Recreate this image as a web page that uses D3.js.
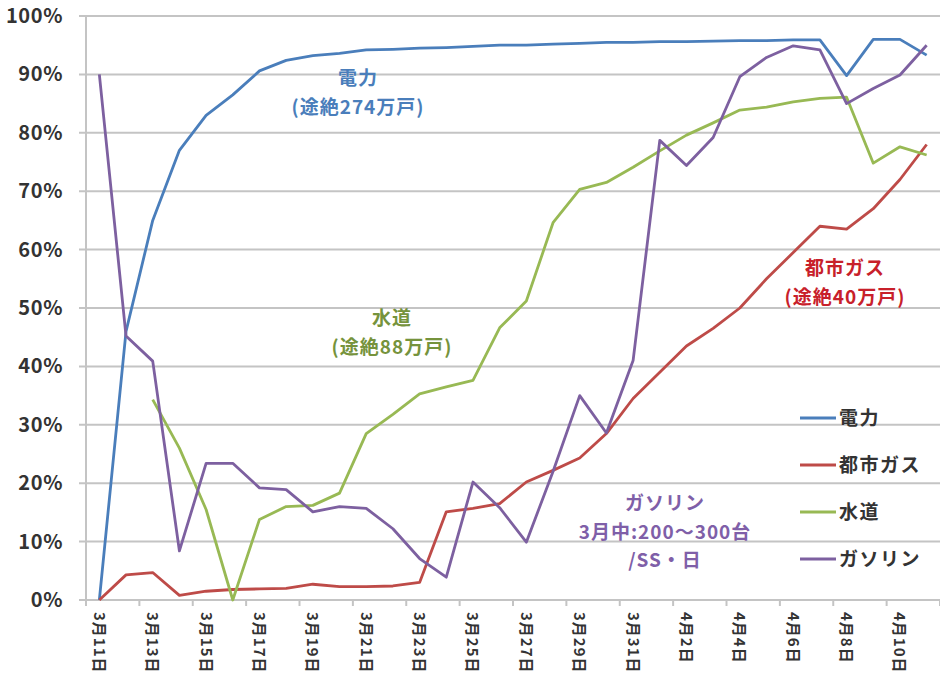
<html lang="ja">
<head>
<meta charset="UTF-8">
<script src="https://d3js.org/d3.v7.min.js"></script>
<style>
  body { margin: 0; background: #fff; }
  text { font-family: "Noto Sans CJK JP", "Open Sans", sans-serif; }
</style>
</head>
<body>
<div id="here"></div>
<script>
    // categories, 3/11 .. 4/11
    const dates = [
        "3月11日", "3月12日", "3月13日", "3月14日", "3月15日", "3月16日", "3月17日", "3月18日",
        "3月19日", "3月20日", "3月21日", "3月22日", "3月23日", "3月24日", "3月25日", "3月26日",
        "3月27日", "3月28日", "3月29日", "3月30日", "3月31日", "4月1日", "4月2日", "4月3日",
        "4月4日", "4月5日", "4月6日", "4月7日", "4月8日", "4月9日", "4月10日", "4月11日"
    ];

    // recovery rates (%)
    const denryoku = [0, 46, 65, 77, 83, 86.5, 90.6, 92.4, 93.2, 93.6, 94.2, 94.3, 94.5, 94.6, 94.8, 95,
        95, 95.2, 95.3, 95.5, 95.5, 95.6, 95.6, 95.7, 95.8, 95.8, 95.9, 95.9, 89.8, 96, 96, 93.3];
    const gas = [0, 4.3, 4.7, 0.8, 1.5, 1.8, 1.9, 2.0, 2.7, 2.3, 2.3, 2.4, 3.0, 15.1, 15.7, 16.5,
        20.2, 22.2, 24.3, 28.5, 34.5, 39, 43.5, 46.5, 50, 55, 59.5, 64, 63.5, 67, 72, 78];
    const suido = [null, null, 34.3, 26, 15.5, 0, 13.8, 16, 16.2, 18.3, 28.5, 31.8, 35.3, 36.5, 37.6, 46.6,
        51.2, 64.6, 70.3, 71.5, 74.1, 76.9, 79.6, 81.7, 83.9, 84.4, 85.3, 85.9, 86.1, 74.8, 77.6, 76.2];
    const gasoline = [90, 45.2, 40.9, 8.4, 23.4, 23.4, 19.2, 18.9, 15.1, 16, 15.7, 12.2, 7.1, 3.9, 20.2, 15.8,
        9.9, 22, 35, 28.6, 41, 78.7, 74.4, 79.2, 89.6, 92.9, 94.9, 94.2, 85, 87.6, 89.9, 95];

    const yTicks = [0, 10, 20, 30, 40, 50, 60, 70, 80, 90, 100];

    const seriesNames = ["電力", "都市ガス", "水道", "ガソリン"];
    const seriesData = [denryoku, gas, suido, gasoline];
    const colors = ["#4A7EBB", "#BE4B48", "#98B954", "#7D60A0"];

    const W = 940, H = 686;
    const mLeft = 86, mRight = 940, mTop = 16, mBottom = 600;

    const svg = d3.select("#here").append("svg")
        .attr("width", W)
        .attr("height", H);

    const x = d3.scaleBand().domain(dates).range([mLeft, mRight]).padding(0);
    const y = d3.scaleLinear().domain([0, 100]).range([mBottom, mTop]);
    const cx = d => x(d) + x.bandwidth() / 2;

    // horizontal grid
    svg.append("g")
        .selectAll("line")
        .data(yTicks)
        .enter().append("line")
        .attr("x1", mLeft - 7).attr("x2", mRight)
        .attr("y1", d => y(d)).attr("y2", d => y(d))
        .attr("stroke", "#c4c4c4")
        .attr("stroke-width", 2);

    // y axis line
    svg.append("line")
        .attr("x1", mLeft).attr("x2", mLeft)
        .attr("y1", mTop).attr("y2", mBottom + 6)
        .attr("stroke", "#c4c4c4").attr("stroke-width", 2);

    // y labels
    svg.append("g")
        .selectAll("text")
        .data(yTicks)
        .enter().append("text")
        .attr("x", 63)
        .attr("y", d => y(d) + 7)
        .attr("text-anchor", "end")
        .attr("font-family", "Open Sans")
        .attr("font-weight", 600)
        .attr("font-size", 20)
        .attr("letter-spacing", 0.6)
        .attr("fill", "#333")
        .text(d => d + "%");

    // x ticks between categories, every 2
    const tickIdx = d3.range(0, dates.length + 1, 2);
    svg.append("g")
        .selectAll("line")
        .data(tickIdx)
        .enter().append("line")
        .attr("x1", i => mLeft + i * x.bandwidth())
        .attr("x2", i => mLeft + i * x.bandwidth())
        .attr("y1", mBottom).attr("y2", mBottom + 6)
        .attr("stroke", "#c4c4c4").attr("stroke-width", 2);

    // x labels, rotated
    svg.append("g")
        .selectAll("text")
        .data(dates.filter((d, i) => i % 2 === 0))
        .enter().append("text")
        .attr("transform", d => "translate(" + (cx(d) - 5.5) + "," + 612 + ") rotate(90)")
        .attr("text-anchor", "start")
        .attr("font-size", 15)
        .attr("font-weight", 600)
        .attr("letter-spacing", 1)
        .attr("fill", "#333")
        .text(d => d);

    // lines
    const line = d3.line()
        .defined(d => d.v !== null)
        .x(d => cx(d.date))
        .y(d => y(d.v));

    seriesData.forEach((s, k) => {
        svg.append("path")
            .datum(s.map((v, i) => ({ date: dates[i], v: v })))
            .attr("fill", "none")
            .attr("stroke", colors[k])
            .attr("stroke-width", 2.8)
            .attr("stroke-linejoin", "round")
            .attr("d", line);
    });

    // annotations
    const notes = [
        { lines: ["電力", "(途絶274万戸)"], x: 358, y: 85, color: "#4A7EBB" },
        { lines: ["水道", "(途絶88万戸)"], x: 392, y: 325, color: "#76933C" },
        { lines: ["都市ガス", "(途絶40万戸)"], x: 845, y: 275, color: "#C8202A" },
        { lines: ["ガソリン", "3月中:200～300台", "/SS・日"], x: 665, y: 510, color: "#7F5FA8" }
    ];
    notes.forEach(n => {
        const t = svg.append("text")
            .attr("text-anchor", "middle")
            .attr("font-size", 19)
            .attr("font-weight", 700)
            .attr("letter-spacing", 1)
            .attr("fill", n.color);
        n.lines.forEach((l, i) => {
            t.append("tspan").attr("x", n.x).attr("y", n.y + i * 28.5).text(l);
        });
    });

    // legend
    const lg = svg.append("g");
    seriesNames.forEach((name, k) => {
        const ly = 418 + k * 47;
        lg.append("line")
            .attr("x1", 800).attr("x2", 836)
            .attr("y1", ly).attr("y2", ly)
            .attr("stroke", colors[k]).attr("stroke-width", 2.8);
        lg.append("text")
            .attr("x", 839).attr("y", ly + 7)
            .attr("font-size", 19)
            .attr("font-weight", 600)
            .attr("letter-spacing", 1.5)
            .attr("fill", "#333")
            .text(name);
    });
</script>
</body>
</html>
